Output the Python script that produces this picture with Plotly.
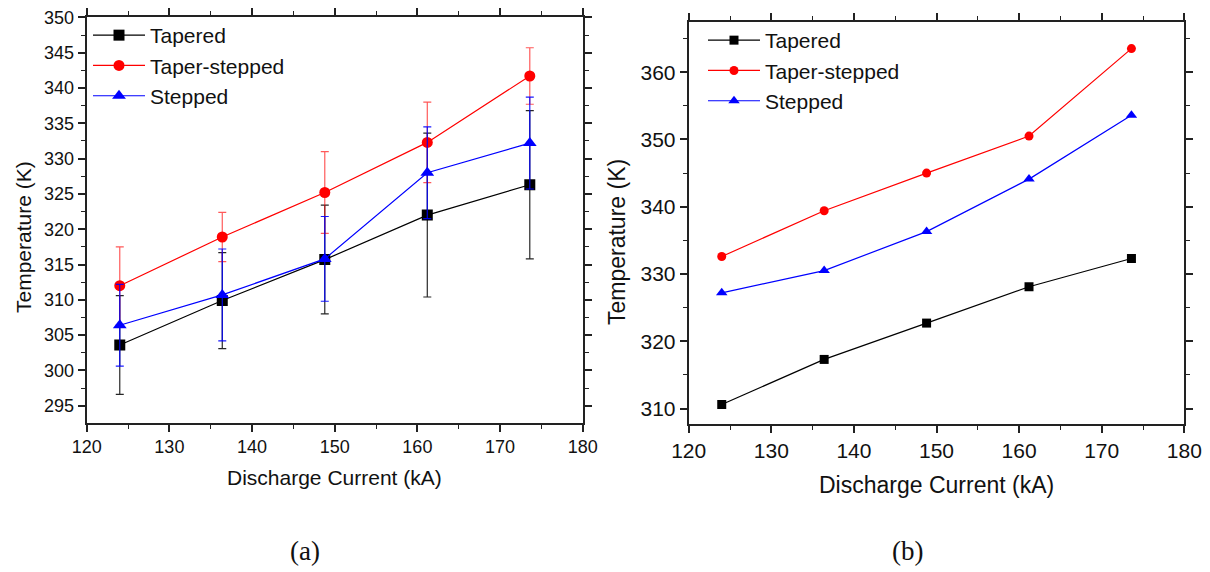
import plotly.graph_objects as go

# Discharge current (kA)
current = [124.0, 136.4, 148.8, 161.2, 173.6]

# (a) measured temperature with spread
tapered_a = [303.6, 309.9, 315.7, 322.0, 326.3]
tapered_a_err = [7.0, 6.8, 7.7, 11.6, 10.5]
taper_stepped_a = [312.0, 318.9, 325.2, 332.3, 341.7]
taper_stepped_a_err = [5.5, 3.5, 5.8, 5.7, 4.0]
stepped_a = [306.4, 310.7, 315.8, 328.0, 332.2]
stepped_a_err = [5.8, 6.5, 6.0, 6.5, 6.5]

# (b) computed temperature
tapered_b = [310.6, 317.3, 322.7, 328.1, 332.3]
taper_stepped_b = [332.6, 339.4, 345.0, 350.5, 363.5]
stepped_b = [327.2, 330.5, 336.3, 344.1, 353.6]

series_names = ["Tapered", "Taper-stepped", "Stepped"]
colors = ["#000000", "#ff0000", "#0000ff"]
err_colors = ["rgba(0,0,0,0.85)", "rgba(255,0,0,0.65)", "rgba(0,0,255,0.9)"]
symbols = ["square", "circle", "triangle-up"]

FONT = "Arial, Liberation Sans, sans-serif"

fig = go.Figure()

vals_a = [tapered_a, taper_stepped_a, stepped_a]
errs_a = [tapered_a_err, taper_stepped_a_err, stepped_a_err]
for name, y, e, c, ec, s in zip(series_names, vals_a, errs_a, colors, err_colors, symbols):
    fig.add_trace(go.Scatter(
        x=current, y=y, name=name, mode="lines+markers",
        line=dict(color=c, width=1.2),
        marker=dict(symbol=s, size=11 if s != "triangle-up" else 12, color=c),
        error_y=dict(type="data", array=e, visible=True, color=ec, thickness=1.2, width=4),
        xaxis="x", yaxis="y", legend="legend",
    ))

vals_b = [tapered_b, taper_stepped_b, stepped_b]
for name, y, c, s in zip(series_names, vals_b, colors, symbols):
    fig.add_trace(go.Scatter(
        x=current, y=y, name=name, mode="lines+markers",
        line=dict(color=c, width=1.2),
        marker=dict(symbol=s, size=9 if s != "triangle-up" else 10, color=c),
        xaxis="x2", yaxis="y2", legend="legend2",
    ))

W, H = 1210, 572


def px_x(p):
    return p / W


def px_y(p):
    return 1 - p / H


def axis_style(tick_size, dtick, minor_dtick, rng, domain, anchor):
    return dict(
        range=rng, domain=domain, anchor=anchor,
        showline=True, linecolor="#222", linewidth=2, mirror="ticks",
        ticks="outside", ticklen=7, tickwidth=1.5, tickcolor="#222",
        dtick=dtick, tick0=0,
        minor=dict(dtick=minor_dtick, ticks="outside", ticklen=4, tickwidth=1.2, tickcolor="#222"),
        showgrid=False, zeroline=False, automargin=False,
        tickfont=dict(family=FONT, size=tick_size, color="#111"),
    )


def label(text, x, y, size, angle=0, family=FONT):
    return dict(text=text, x=px_x(x), y=px_y(y), xref="paper", yref="paper",
                xanchor="center", yanchor="middle", showarrow=False, textangle=angle,
                font=dict(family=family, size=size, color="#111"))


SERIF = "Liberation Serif, Times New Roman, serif"

layout = dict(
    width=W, height=H,
    margin=dict(l=0, r=0, t=0, b=0, autoexpand=False),
    paper_bgcolor="white", plot_bgcolor="white",
    showlegend=True,
    xaxis=axis_style(18, 10, 5, [120, 180], [px_x(86.7), px_x(582.7)], "y"),
    yaxis=axis_style(18, 5, 2.5, [292.6, 350], [px_y(422.7), px_y(17.4)], "x"),
    xaxis2=axis_style(21, 10, 5, [120, 180], [px_x(688.7), px_x(1184.3)], "y2"),
    yaxis2=axis_style(21, 10, 5, [307.7, 367.5], [px_y(424), px_y(21.7)], "x2"),
    legend=dict(x=px_x(88), y=px_y(15), xanchor="left", yanchor="top",
                bgcolor="rgba(0,0,0,0)", font=dict(family=FONT, size=21, color="#111"),
                tracegroupgap=0, itemwidth=52),
    legend2=dict(x=px_x(703), y=px_y(20), xanchor="left", yanchor="top",
                 bgcolor="rgba(0,0,0,0)", font=dict(family=FONT, size=21, color="#111"),
                 tracegroupgap=0, itemwidth=52),
    annotations=[
        label("Discharge Current (kA)", 334, 477, 21),
        label("Temperature (K)", 23, 237, 21, -90),
        label("Discharge Current (kA)", 936, 485, 23),
        label("Temperature (K)", 617, 242, 23, -90),
        label("(a)", 305, 551, 27, family=SERIF),
        label("(b)", 907, 551, 27, family=SERIF),
    ],
)
fig.update_layout(**layout)

fig.write_html("out.html")
